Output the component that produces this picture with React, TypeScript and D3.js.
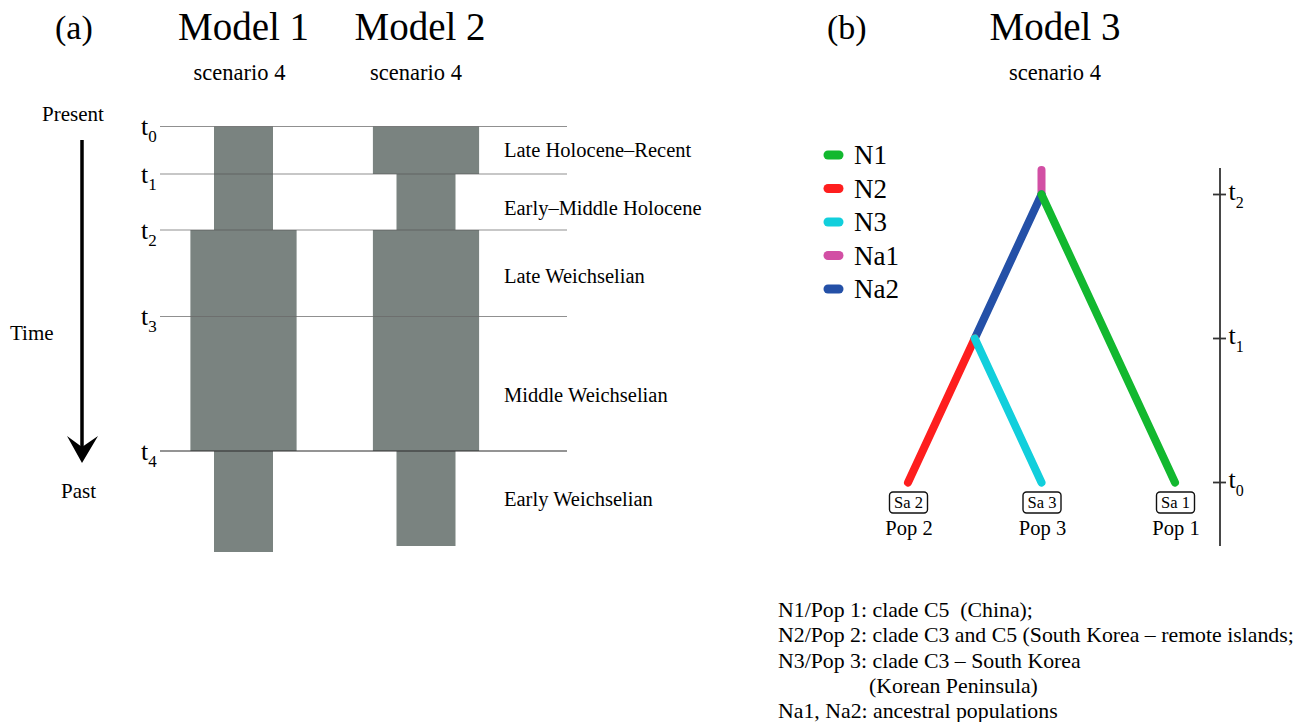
import React from "react";
import * as d3 from "d3";

// ---- Panel (a): demographic models along a time axis ----
const periodNames = [
  "Late Holocene–Recent",
  "Early–Middle Holocene",
  "Late Weichselian",
  "Middle Weichselian",
  "Early Weichselian",
];
// where each period name sits inside its interval (0 = top, 1 = bottom)
const periodLabelFrac = [0.5, 0.6, 0.53, 0.58, 0.48];
// time boundaries t0..t4 (relative depth units, present = 0)
const boundaryDepths = [0, 47.5, 103.5, 190, 324.5];
const boundaryLabels = ["0", "1", "2", "3", "4"];
// relative effective size per period
const model1Sizes = [1, 1, 1.8, 1.8, 1];
const model2Sizes = [1.8, 1, 1.8, 1.8, 1];
// depth of the oldest interval's lower edge
const model1End = 425.5;
const model2End = 419.5;
const modelNames = ["Model 1", "Model 2"];
const scenarioLabel = "scenario 4";

// ---- Panel (b): population tree ----
const treeTimes = ["0", "1", "2"]; // t0, t1, t2
const legendItems = [
  { name: "N1", color: "#12b82f" },
  { name: "N2", color: "#fe1e1e" },
  { name: "N3", color: "#12cfdc" },
  { name: "Na1", color: "#d24fa4" },
  { name: "Na2", color: "#2450a7" },
];
// branches: [x, t] -> [x, t] in tree units
const branches = [
  { name: "Na1", from: [1, 2.17], to: [1, 2] },
  { name: "Na2", from: [1, 2], to: [0.5, 1] },
  { name: "N1", from: [1, 2], to: [2, 0] },
  { name: "N2", from: [0.5, 1], to: [0, 0] },
  { name: "N3", from: [0.5, 1], to: [1, 0] },
];
const samples = [
  { sa: "Sa 2", pop: "Pop 2", x: 0 },
  { sa: "Sa 3", pop: "Pop 3", x: 1 },
  { sa: "Sa 1", pop: "Pop 1", x: 2 },
];
const notes = [
  { text: "N1/Pop 1: clade C5  (China);", indent: false },
  { text: "N2/Pop 2: clade C3 and C5 (South Korea – remote islands;", indent: false },
  { text: "N3/Pop 3: clade C3 – South Korea", indent: false },
  { text: "(Korean Peninsula)", indent: true },
  { text: "Na1, Na2: ancestral populations", indent: false },
];

const FONT = "'Liberation Serif', 'Times New Roman', serif";
const BAR = "#7a8380";

export default function App() {
  // panel (a) scales
  const y = d3.scaleLinear().domain([0, model1End]).range([126.5, 552]);
  const w = d3.scaleLinear().domain([0, 1]).range([0, 59]);
  const modelX = d3.scalePoint<string>().domain(modelNames).range([243.5, 426]);

  const intervals = (sizes: number[], end: number) =>
    sizes.map((s, i) => ({
      top: boundaryDepths[i],
      bottom: i + 1 < boundaryDepths.length ? boundaryDepths[i + 1] : end,
      size: s,
    }));
  const models = [
    { name: modelNames[0], parts: intervals(model1Sizes, model1End), titleShift: 0 },
    { name: modelNames[1], parts: intervals(model2Sizes, model2End), titleShift: -6 },
  ];
  const periodAt = periodNames.map((_, i) => {
    const top = boundaryDepths[i];
    const bottom = i + 1 < boundaryDepths.length ? boundaryDepths[i + 1] : model1End;
    return top + (bottom - top) * periodLabelFrac[i];
  });

  // panel (b) scales
  const tx = d3.scaleLinear().domain([0, 2]).range([908, 1175]);
  const ty = d3.scaleLinear().domain([0, 2]).range([482.5, 194.5]);
  const colorOf = new Map(legendItems.map((d) => [d.name, d.color]));
  const line = d3.line<number[]>().x((d) => tx(d[0])).y((d) => ty(d[1]));

  return (
    <svg
      width={1304}
      height={722}
      style={{ position: "absolute", left: 0, top: 0, background: "#fff" }}
      fontFamily={FONT}
    >
      {/* ---------- (a) ---------- */}
      <text x={55} y={39} fontSize={34}>(a)</text>
      {models.map((m) => {
        const cx = modelX(m.name) as number;
        return (
          <g key={m.name}>
            <text x={cx + m.titleShift} y={40} fontSize={39} textAnchor="middle">{m.name}</text>
            <text x={cx + m.titleShift - 4} y={80} fontSize={22.5} textAnchor="middle">{scenarioLabel}</text>
            {m.parts.map((p, i) => (
              <rect
                key={i}
                x={cx - w(p.size) / 2}
                y={y(p.top)}
                width={w(p.size)}
                height={y(p.bottom) - y(p.top)}
                fill={BAR}
              />
            ))}
          </g>
        );
      })}
      {boundaryDepths.map((d, i) => (
        <g key={i}>
          <line
            x1={160}
            x2={567}
            y1={y(d)}
            y2={y(d)}
            stroke={i === boundaryDepths.length - 1 ? "#2a2a2a" : "#555"}
            strokeOpacity={i === boundaryDepths.length - 1 ? 1 : 0.65}
            strokeWidth={1.2}
          />
          <text x={141} y={y(d) + 8.5} fontSize={26}>
            t<tspan dy={7} fontSize={17}>{boundaryLabels[i]}</tspan>
          </text>
        </g>
      ))}
      {periodNames.map((p, i) => (
        <text key={p} x={504} y={y(periodAt[i]) + 7} fontSize={20.5}>{p}</text>
      ))}
      {/* time arrow */}
      <text x={42} y={121} fontSize={21}>Present</text>
      <text x={10} y={340} fontSize={21}>Time</text>
      <text x={61} y={498} fontSize={21}>Past</text>
      <line x1={82} x2={82} y1={140} y2={450} stroke="#000" strokeWidth={3.5} />
      <path d="M67,436 L82,463 L98,436 L82,447 Z" fill="#000" />

      {/* ---------- (b) ---------- */}
      <text x={827} y={39} fontSize={34}>(b)</text>
      <text x={1055} y={40} fontSize={39} textAnchor="middle">Model 3</text>
      <text x={1055} y={80} fontSize={22.5} textAnchor="middle">{scenarioLabel}</text>

      {legendItems.map((d, i) => (
        <g key={d.name} transform={`translate(0, ${155 + i * 33.5})`}>
          <line x1={828} x2={839} y1={0} y2={0} stroke={d.color} strokeWidth={9} strokeLinecap="round" />
          <text x={854} y={9} fontSize={27}>{d.name}</text>
        </g>
      ))}

      {branches.map((b) => (
        <path
          key={b.name}
          d={line([b.from, b.to]) as string}
          stroke={colorOf.get(b.name)}
          strokeWidth={8}
          strokeLinecap="round"
          fill="none"
        />
      ))}

      {samples.map((s) => (
        <g key={s.sa}>
          <rect
            x={tx(s.x) - 18.5}
            y={492}
            width={38}
            height={21}
            rx={3.5}
            fill="#fff"
            stroke="#111"
            strokeWidth={1.4}
          />
          <text x={tx(s.x) + 0.5} y={508} fontSize={16.5} textAnchor="middle">{s.sa}</text>
          <text x={tx(s.x) + 1} y={535} fontSize={20.5} textAnchor="middle">{s.pop}</text>
        </g>
      ))}

      {/* tree time axis */}
      <line x1={1220} x2={1220} y1={168} y2={546} stroke="#333" strokeWidth={1.8} />
      {treeTimes.map((t, i) => (
        <g key={t}>
          <line x1={1213} x2={1226} y1={ty(i)} y2={ty(i)} stroke="#333" strokeWidth={1.8} />
          <text x={1228.5} y={ty(i) + 5} fontSize={26}>
            t<tspan dy={8} fontSize={16}>{t}</tspan>
          </text>
        </g>
      ))}

      {notes.map((n, i) => (
        <text
          key={i}
          x={n.indent ? 869 : 778}
          y={617 + i * 25.3}
          fontSize={21.8}
          style={{ whiteSpace: "pre" }}
        >
          {n.text}
        </text>
      ))}
    </svg>
  );
}
